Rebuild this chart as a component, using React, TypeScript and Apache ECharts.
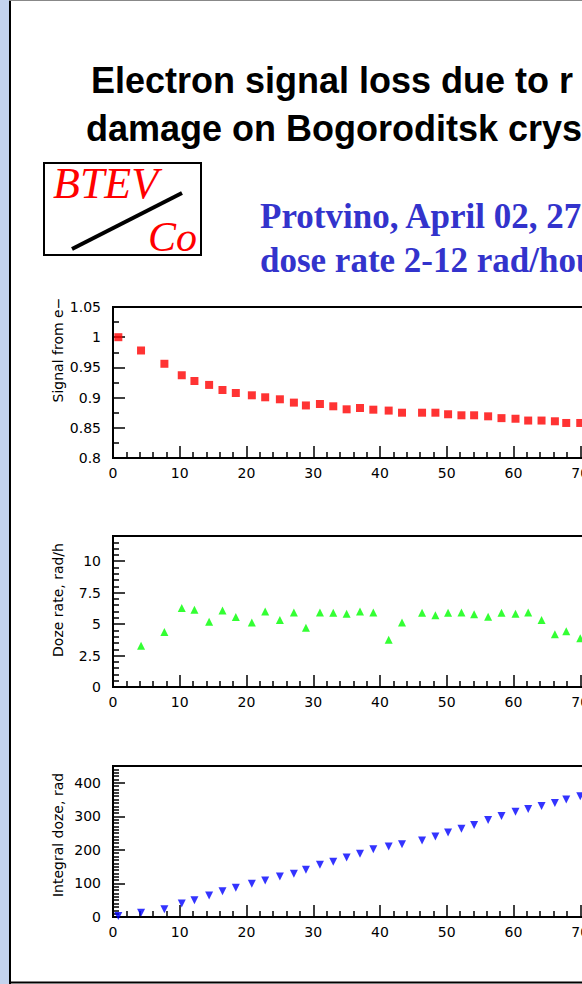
import React, { useEffect, useRef } from "react";
import * as echarts from "echarts";

// Time of irradiation (hours) for every measurement
const hours = [0.8, 4.2, 7.7, 10.3, 12.2, 14.4, 16.4, 18.4, 20.8, 22.8, 25.0, 27.1, 28.9, 31.0, 33.0, 35.0, 37.0, 39.0, 41.3, 43.3, 46.3, 48.3, 50.2, 52.2, 54.1, 56.2, 58.2, 60.3, 62.2, 64.2, 66.2, 67.9, 70.0];
// Relative signal from electrons
const signal = [1.0, 0.978, 0.956, 0.937, 0.9275, 0.921, 0.9126, 0.9076, 0.9038, 0.9005, 0.8972, 0.8917, 0.887, 0.8894, 0.8856, 0.8806, 0.8828, 0.88, 0.8785, 0.875, 0.875, 0.875, 0.8724, 0.8707, 0.8707, 0.869, 0.866, 0.865, 0.862, 0.862, 0.8608, 0.858, 0.858];
// Dose rate, rad/h
const doseRate = [null, 3.28, 4.37, 6.27, 6.14, 5.18, 6.08, 5.56, 5.13, 6.0, 5.32, 5.93, 4.71, 5.93, 5.9, 5.82, 6.0, 5.93, 3.76, 5.13, 5.9, 5.71, 5.9, 5.93, 5.79, 5.58, 5.9, 5.82, 5.93, 5.32, 4.2, 4.44, 3.88];
// Integral dose, rad
const integralDose = [3, 13, 23, 40.5, 50, 64, 77, 87, 99, 108.6, 120.4, 129, 141, 156, 165, 177.5, 188.5, 202, 210, 217, 228, 240, 251.5, 263, 274, 289, 301, 313.6, 321.6, 330.5, 340, 350, 360];

const titleLines = ["Electron signal loss due to r", "damage on Bogoroditsk crys"];
const subtitleLines = ["Protvino, April 02, 27", "dose rate 2-12 rad/hou"];
const logoTexts = ["BTEV", "Co"];
const yNames = ["Signal from e\u2212", "Doze rate, rad/h", "Integral doze, rad"];

const xRange = { min: 0, max: 80, interval: 10 };
const yRanges = [
  { min: 0.8, max: 1.05, interval: 0.05, minor: 2 },
  { min: 0, max: 12, interval: 2.5, minor: 5 },
  { min: 0, max: 450, interval: 100, minor: 10 },
];

const pairs = (ys: (number | null)[]) =>
  hours.map((h, i) => (ys[i] == null ? null : [h, ys[i]])).filter((p) => p !== null);

export default function App() {
  const ref = useRef<HTMLDivElement>(null);
  useEffect(() => {
    if (!ref.current) return;
    const chart = echarts.init(ref.current, undefined, { renderer: "svg" });
    const tickFont = { color: "#000", fontFamily: "DejaVu Sans", fontSize: 14 };
    const gridTops = [307, 536, 766];
    const gridH = 151;
    const grids = gridTops.map((t) => ({
      left: 113,
      top: t,
      width: 534,
      height: gridH,
      show: true,
      borderColor: "#000",
      borderWidth: 2,
      backgroundColor: "transparent",
    }));
    const xAxes = gridTops.map((_, i) => ({
      type: "value",
      gridIndex: i,
      min: xRange.min,
      max: xRange.max,
      interval: xRange.interval,
      axisLine: { show: true, onZero: false, lineStyle: { color: "#000", width: 2 } },
      axisTick: { show: true, inside: true, length: 12, lineStyle: { color: "#000", width: 1.5 } },
      minorTick: { show: true, splitNumber: 5, length: 6, lineStyle: { color: "#000", width: 1.5 } },
      splitLine: { show: false },
      minorSplitLine: { show: false },
      axisLabel: { ...tickFont, margin: 8 },
    }));
    const yAxes = yRanges.map((r, i) => ({
      type: "value",
      gridIndex: i,
      min: r.min,
      max: r.max,
      interval: r.interval,
      axisLine: { show: true, onZero: false, lineStyle: { color: "#000", width: 2 } },
      axisTick: { show: true, inside: true, length: 12, lineStyle: { color: "#000", width: 1.5 } },
      minorTick: { show: true, splitNumber: r.minor, length: 6, lineStyle: { color: "#000", width: 1.5 } },
      splitLine: { show: false },
      minorSplitLine: { show: false },
      axisLabel: { ...tickFont, margin: 12, showMaxLabel: i === 0 },
    }));
    const nameCenters = [350, 600, 835];
    const graphic: any[] = [
      { type: "rect", shape: { x: 0, y: 0, width: 9, height: 984 }, style: { fill: "#c4d3ee" }, z: 100 },
      { type: "line", shape: { x1: 10, y1: 0, x2: 10, y2: 984 }, style: { stroke: "#000", lineWidth: 2 }, z: 100 },
      { type: "line", shape: { x1: 9, y1: 982.5, x2: 720, y2: 982.5 }, style: { stroke: "#000", lineWidth: 2 }, z: 100 },
      { type: "line", shape: { x1: 9, y1: 0.5, x2: 720, y2: 0.5 }, style: { stroke: "#888", lineWidth: 1 }, z: 100 },
      ...titleLines.map((t, i) => ({
        type: "text",
        x: i === 0 ? 91 : 86,
        y: i === 0 ? 80 : 128,
        z: 100,
        style: { text: t, fill: "#000", fontFamily: "Liberation Sans", fontWeight: "bold", fontSize: 36, align: "left", verticalAlign: "middle" },
      })),
      { type: "rect", shape: { x: 44, y: 163, width: 157, height: 92 }, style: { fill: "#fff", stroke: "#000", lineWidth: 2 }, z: 100 },
      { type: "text", x: 53, y: 183, z: 101, style: { text: logoTexts[0], fill: "#ff0000", fontFamily: "Liberation Serif", fontStyle: "italic", fontSize: 44, align: "left", verticalAlign: "middle" } },
      { type: "text", x: 148, y: 237, z: 101, style: { text: logoTexts[1], fill: "#ff0000", fontFamily: "Liberation Serif", fontStyle: "italic", fontSize: 42, align: "left", verticalAlign: "middle" } },
      { type: "line", shape: { x1: 72, y1: 249, x2: 182, y2: 193 }, style: { stroke: "#000", lineWidth: 4 }, z: 101 },
      ...subtitleLines.map((t, i) => ({
        type: "text",
        x: 260,
        y: i === 0 ? 216 : 260,
        z: 100,
        style: { text: t, fill: "#3333cc", fontFamily: "Liberation Serif", fontWeight: "bold", fontSize: 35, align: "left", verticalAlign: "middle" },
      })),
      ...yNames.map((t, i) => ({
        type: "text",
        x: 58,
        y: nameCenters[i],
        rotation: Math.PI / 2,
        z: 100,
        style: { text: t, fill: "#000", fontFamily: "DejaVu Sans", fontSize: 14, align: "center", verticalAlign: "middle" },
      })),
    ];
    chart.setOption({
      animation: false,
      backgroundColor: "#fff",
      grid: grids,
      xAxis: xAxes,
      yAxis: yAxes,
      graphic,
      series: [
        { type: "scatter", xAxisIndex: 0, yAxisIndex: 0, data: pairs(signal), symbol: "rect", symbolSize: 8, itemStyle: { color: "#ff0000" } },
        { type: "scatter", xAxisIndex: 1, yAxisIndex: 1, data: pairs(doseRate), symbol: "triangle", symbolSize: 8, itemStyle: { color: "#00ff00" } },
        { type: "scatter", xAxisIndex: 2, yAxisIndex: 2, data: pairs(integralDose), symbol: "triangle", symbolRotate: 180, symbolSize: 8, itemStyle: { color: "#0000ff" } },
      ],
    });
    return () => chart.dispose();
  }, []);
  return (
    <div style={{ position: "fixed", left: 0, top: 0, width: 582, height: 984, overflow: "hidden", background: "#fff" }}>
      <div ref={ref} style={{ width: 720, height: 984 }} />
    </div>
  );
}
